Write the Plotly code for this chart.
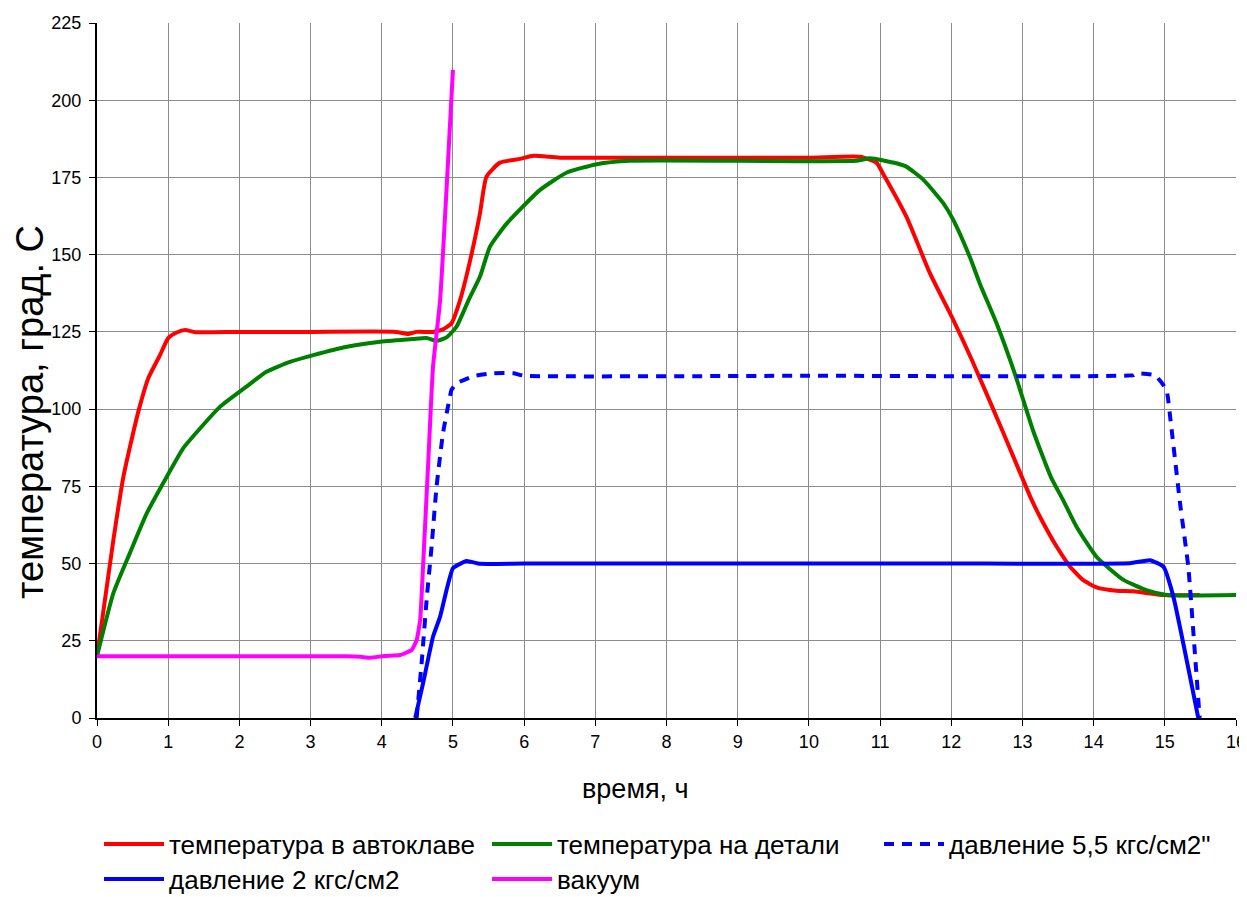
import plotly.graph_objects as go

# ---- data ----
red_x = [0, 0.23, 0.37, 0.49, 0.59, 0.72, 0.885, 1.0, 1.12, 1.24, 1.38, 2.0, 3.0, 4.2, 4.37, 4.49,
         4.72, 4.86, 4.98, 5.1, 5.24, 5.38, 5.47, 5.66, 5.94, 6.13, 6.5, 8, 10, 10.72, 10.95, 11.04,
         11.37, 11.7, 12.03, 12.29, 12.71, 13.13, 13.27, 13.48, 13.67, 13.85, 14.04, 14.32, 14.56,
         14.98, 15.49]
red_y = [20, 57.6, 78, 90.5, 100, 110, 117.5, 123, 124.8, 125.6, 124.9, 125, 125, 125, 124.3, 125,
         125, 125.8, 127.8, 135.3, 148, 163.4, 175.2, 179.8, 181, 182, 181.4, 181.4, 181.4, 181.7,
         179.8, 176.3, 162.3, 144, 128.8, 115.9, 93.5, 70.6, 64.1, 55.5, 49, 44.7, 42.3, 41.2, 41,
         39.8, 39.8]

green_x = [0, 0.23, 0.46, 0.70, 0.98, 1.21, 1.45, 1.73, 2.1, 2.38, 2.71, 3.04, 3.51, 3.98, 4.44,
           4.63, 4.77, 4.91, 5.05, 5.22, 5.38, 5.52, 5.76, 6.22, 6.6, 7.02, 7.49, 9, 10.67, 10.86,
           11.23, 11.37, 11.61, 11.89, 12.03, 12.26, 12.4, 12.65, 12.9, 13.15, 13.4, 13.57, 13.76,
           14.04, 14.42, 14.74, 15.03, 16]
green_y = [20, 40.4, 53.3, 66.3, 78.1, 87.3, 93.8, 100.8, 107.3, 112.1, 115.3, 117.5, 120.2, 121.8,
           122.7, 123, 122.1, 123.2, 126.7, 135.3, 142.9, 152.6, 160.2, 170.9, 176.6, 179.3, 180.4,
           180.4, 180.4, 181.2, 179.6, 178.5, 174.2, 166.6, 161.2, 149.3, 140.7, 127, 111, 93, 78,
           70.6, 61.9, 52.2, 44.7, 41.4, 39.8, 39.8]

p55_x = [4.49, 4.56, 4.63, 4.7, 4.77, 4.86, 4.93, 4.98, 5.05, 5.29, 5.57, 5.85, 6.0, 10, 14.56,
         14.6, 14.86, 14.98, 15.03, 15.08, 15.22, 15.33, 15.44, 15.49]
p55_y = [0, 17.7, 38.2, 55.5, 74.9, 92.2, 100.8, 106.2, 108.3, 110.7, 111.6, 111.6, 110.8, 110.8,
         111, 111.6, 111, 107.8, 105.6, 96.5, 68.4, 49, 15.5, 0]

p2_x = [4.47, 4.58, 4.72, 4.82, 4.91, 5.0, 5.19, 5.38, 6.0, 8, 12, 14.51, 14.79, 14.98, 15.12, 15.47]
p2_y = [0, 11.2, 26.3, 32.8, 41.4, 48.5, 50.8, 49.9, 50, 50, 50, 50.1, 51.1, 49, 39.3, 0]

vac_x = [0, 1, 2, 3, 3.5, 3.7, 3.84, 4.04, 4.26, 4.42, 4.49, 4.54, 4.58, 4.65, 4.72, 4.82, 5.0]
vac_y = [20, 20, 20, 20, 20, 19.8, 19.5, 20.1, 20.4, 22, 25.2, 31.7, 49, 81.3, 113.7, 135.3, 209.8]

names = ["температура в автоклаве", "температура на детали", "давление 5,5 кгс/см2\"",
         "давление 2 кгс/см2", "вакуум"]

x_ticks = list(range(0, 17))
y_ticks = list(range(0, 226, 25))

x_title = "время, ч"
y_title = "температура, град. С"

FONT = "Liberation Sans, Arial, sans-serif"

fig = go.Figure()
fig.add_trace(go.Scatter(x=red_x, y=red_y, mode="lines", name=names[0],
                         line=dict(color="#ff0000", width=4, shape="spline", smoothing=0.5),
                         legend="legend"))
fig.add_trace(go.Scatter(x=green_x, y=green_y, mode="lines", name=names[1],
                         line=dict(color="#008000", width=4, shape="spline", smoothing=0.5),
                         legend="legend2"))
fig.add_trace(go.Scatter(x=p55_x, y=p55_y, mode="lines", name=names[2],
                         line=dict(color="#0000ff", width=4, dash="10px,8px", shape="spline",
                                   smoothing=0.4),
                         legend="legend3"))
fig.add_trace(go.Scatter(x=p2_x, y=p2_y, mode="lines", name=names[3],
                         line=dict(color="#0000ff", width=4, shape="spline", smoothing=0.4),
                         legend="legend4"))
fig.add_trace(go.Scatter(x=vac_x, y=vac_y, mode="lines", name=names[4],
                         line=dict(color="#ff00ff", width=4, shape="spline", smoothing=0.4),
                         legend="legend5"))

# the page body adds an 8 px offset; positions below are in screen pixels
OFF = 8
W, H = 1247 - OFF, 897 - OFF
X0, X1, Y0, Y1 = 97, 1236, 23, 718          # plot area on screen
L, R, T, B = X0 - OFF, W - (X1 - OFF), Y0 - OFF, H - (Y1 - OFF)
PW, PH = X1 - X0, Y1 - Y0

def px2x(px):
    return (px - X0) / PW

def py2y(py):
    return (Y1 - py) / PH

def lg(px, py):
    return dict(font=dict(family=FONT, size=26, color="black"), bgcolor="rgba(0,0,0,0)",
                xref="paper", yref="paper", xanchor="left", yanchor="middle",
                x=px2x(px), y=py2y(py), itemwidth=60)

fig.update_layout(
    width=W, height=H,
    paper_bgcolor="white", plot_bgcolor="white",
    margin=dict(l=L, r=R, t=T, b=B, autoexpand=False),
    font=dict(family=FONT, size=18, color="black"),
    showlegend=True,
    legend=lg(99, 844), legend2=lg(487, 844), legend3=lg(879, 844),
    legend4=lg(99, 879), legend5=lg(487, 879),
    xaxis=dict(range=[0, 16], tickvals=x_ticks, ticks="outside", ticklen=6, tickcolor="black",
               showline=True, linecolor="black", linewidth=2, mirror=False,
               showgrid=True, gridcolor="#8c8c8c", gridwidth=1, zeroline=False,
               tickfont=dict(size=18)),
    yaxis=dict(range=[0, 225], tickvals=y_ticks, ticks="outside", ticklen=6, tickcolor="black",
               showline=True, linecolor="black", linewidth=2, ticklabelstandoff=4,
               showgrid=True, gridcolor="#8c8c8c", gridwidth=1, zeroline=False,
               tickfont=dict(size=18)),
    annotations=[
        dict(text=x_title, xref="paper", yref="paper", x=px2x(635), y=py2y(789),
             xanchor="center", yanchor="middle", showarrow=False,
             font=dict(family=FONT, size=27, color="black")),
        dict(text=y_title, xref="paper", yref="paper", x=px2x(30), y=py2y(412),
             xanchor="center", yanchor="middle", showarrow=False, textangle=-90,
             font=dict(family=FONT, size=38, color="black")),
    ],
)

fig.write_html("out.html")
